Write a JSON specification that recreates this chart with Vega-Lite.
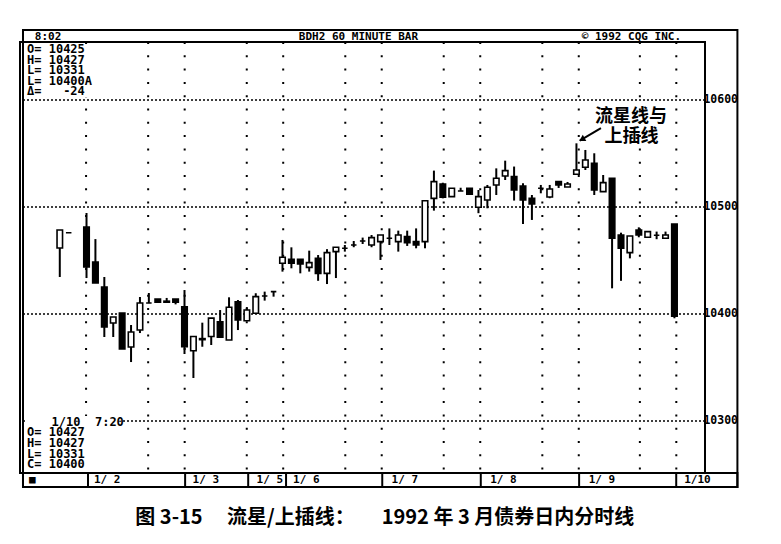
{
  "$schema": "https://vega.github.io/schema/vega-lite/v6.json",
  "width": 685,
  "height": 431,
  "autosize": {"type": "none"},
  "padding": {"left": 20, "top": 42, "right": 76, "bottom": 71},
  "background": "white",
  "config": {"view": {"stroke": "black", "strokeWidth": 2}},
  "datasets": {
    "candles": [
      {"t": 0, "o": 10461.7, "h": 10478.5, "l": 10434.6, "c": 10478.5},
      {"t": 1, "o": 10476, "h": 10476, "l": 10476, "c": 10476},
      {"t": 3, "o": 10481.3, "h": 10494.4, "l": 10433.6, "c": 10443.9},
      {"t": 4, "o": 10448.6, "h": 10470, "l": 10429, "c": 10429},
      {"t": 5, "o": 10425.2, "h": 10434.6, "l": 10378.5, "c": 10387.9},
      {"t": 6, "o": 10391.6, "h": 10397.2, "l": 10378.5, "c": 10397.2},
      {"t": 7, "o": 10400.9, "h": 10400.9, "l": 10367.3, "c": 10367.3},
      {"t": 8, "o": 10369.2, "h": 10389.7, "l": 10355.1, "c": 10383.2},
      {"t": 9, "o": 10385, "h": 10415.9, "l": 10382.2, "c": 10410.3},
      {"t": 10, "o": 10410.3, "h": 10419.6, "l": 10410.3, "c": 10410.3},
      {"t": 11, "o": 10414, "h": 10414, "l": 10411, "c": 10411},
      {"t": 12, "o": 10411, "h": 10415, "l": 10411, "c": 10412},
      {"t": 13, "o": 10414, "h": 10414, "l": 10409, "c": 10411},
      {"t": 14, "o": 10406.8, "h": 10422.4, "l": 10362.6, "c": 10369.4},
      {"t": 15, "o": 10365.6, "h": 10378.9, "l": 10340.2, "c": 10378.9},
      {"t": 16, "o": 10376, "h": 10391.9, "l": 10369.4, "c": 10377},
      {"t": 17, "o": 10378.9, "h": 10396.1, "l": 10371, "c": 10396.1},
      {"t": 18, "o": 10392.8, "h": 10403.7, "l": 10378.3, "c": 10378.3},
      {"t": 19, "o": 10375.7, "h": 10415.6, "l": 10375.7, "c": 10406.3},
      {"t": 20, "o": 10411.5, "h": 10413.1, "l": 10385, "c": 10394.4},
      {"t": 21, "o": 10393.7, "h": 10406.5, "l": 10393.7, "c": 10403.7},
      {"t": 22, "o": 10400.7, "h": 10419.4, "l": 10400.7, "c": 10416.2},
      {"t": 23, "o": 10416.8, "h": 10420.9, "l": 10412.5, "c": 10416.8},
      {"t": 24, "o": 10420.9, "h": 10420.9, "l": 10416.2, "c": 10420.9},
      {"t": 25, "o": 10447.4, "h": 10469.2, "l": 10439.6, "c": 10453},
      {"t": 26, "o": 10451.1, "h": 10462.3, "l": 10442.7, "c": 10447.4},
      {"t": 27, "o": 10451.1, "h": 10451.1, "l": 10438, "c": 10446.7},
      {"t": 28, "o": 10443.6, "h": 10459.2, "l": 10439.6, "c": 10448},
      {"t": 29, "o": 10452, "h": 10455.1, "l": 10431, "c": 10438},
      {"t": 30, "o": 10438, "h": 10460.6, "l": 10428, "c": 10457.4},
      {"t": 31, "o": 10458.3, "h": 10462.4, "l": 10433.6, "c": 10462.4},
      {"t": 32, "o": 10461.4, "h": 10464.5, "l": 10458.3, "c": 10461.4},
      {"t": 33, "o": 10464.5, "h": 10468.2, "l": 10462.4, "c": 10464.5},
      {"t": 34, "o": 10468.2, "h": 10471.4, "l": 10465.4, "c": 10468.2},
      {"t": 35, "o": 10464.5, "h": 10473.8, "l": 10462.4, "c": 10471.4},
      {"t": 36, "o": 10467.6, "h": 10473.8, "l": 10450.5, "c": 10473.8},
      {"t": 37, "o": 10470.8, "h": 10480, "l": 10464.5, "c": 10470.8},
      {"t": 38, "o": 10467.6, "h": 10477.9, "l": 10458.3, "c": 10473.8},
      {"t": 39, "o": 10472.3, "h": 10477.9, "l": 10463.6, "c": 10466.7},
      {"t": 40, "o": 10467.6, "h": 10480, "l": 10461.4, "c": 10464.5},
      {"t": 41, "o": 10467.6, "h": 10505.9, "l": 10461.4, "c": 10505.9},
      {"t": 42, "o": 10508.1, "h": 10534, "l": 10496.6, "c": 10523.7},
      {"t": 43, "o": 10521.5, "h": 10522.7, "l": 10508.1, "c": 10509.1},
      {"t": 44, "o": 10509.7, "h": 10517.5, "l": 10509.7, "c": 10517.5},
      {"t": 45, "o": 10515, "h": 10518, "l": 10515, "c": 10515},
      {"t": 46, "o": 10517.5, "h": 10517.5, "l": 10512, "c": 10512},
      {"t": 47, "o": 10499.7, "h": 10515.9, "l": 10494.2, "c": 10509.7},
      {"t": 48, "o": 10506.5, "h": 10520.6, "l": 10498.8, "c": 10518.4},
      {"t": 49, "o": 10520.6, "h": 10536.1, "l": 10511.2, "c": 10526.8},
      {"t": 50, "o": 10529, "h": 10543.3, "l": 10525.2, "c": 10534},
      {"t": 51, "o": 10528.4, "h": 10537.8, "l": 10506, "c": 10515.9},
      {"t": 52, "o": 10519.6, "h": 10522.2, "l": 10484.1, "c": 10506.5},
      {"t": 53, "o": 10508.1, "h": 10511.2, "l": 10487.9, "c": 10502.8},
      {"t": 54, "o": 10517.5, "h": 10520.6, "l": 10512.8, "c": 10517.5},
      {"t": 55, "o": 10509.3, "h": 10520.6, "l": 10508.2, "c": 10516.8},
      {"t": 56, "o": 10523.7, "h": 10523.7, "l": 10517.8, "c": 10520.6},
      {"t": 57, "o": 10518.7, "h": 10523.4, "l": 10518.7, "c": 10521.5},
      {"t": 58, "o": 10530.6, "h": 10559.5, "l": 10530.6, "c": 10534.6},
      {"t": 59, "o": 10537.1, "h": 10553.3, "l": 10534.6, "c": 10543.9},
      {"t": 60, "o": 10540.9, "h": 10550.2, "l": 10511.2, "c": 10515.9},
      {"t": 61, "o": 10514.4, "h": 10529.9, "l": 10514.4, "c": 10522.8},
      {"t": 62, "o": 10526.9, "h": 10526.9, "l": 10424, "c": 10470.8},
      {"t": 63, "o": 10473.8, "h": 10476, "l": 10431, "c": 10461.4},
      {"t": 64, "o": 10457.4, "h": 10472.9, "l": 10452, "c": 10472.9},
      {"t": 65, "o": 10478.5, "h": 10481, "l": 10471.7, "c": 10473.8},
      {"t": 66, "o": 10471.7, "h": 10477, "l": 10471.7, "c": 10477},
      {"t": 67, "o": 10473.6, "h": 10477, "l": 10469.9, "c": 10473.6},
      {"t": 68, "o": 10470.8, "h": 10477, "l": 10470.8, "c": 10473.8},
      {"t": 69, "o": 10484.1, "h": 10484.1, "l": 10396, "c": 10398}
    ],
    "hgrid": [{"v": 10300}, {"v": 10400}, {"v": 10500}, {"v": 10600}],
    "vgrid": [
      {"t": 2.95}, {"t": 9.92}, {"t": 14.02}, {"t": 20.99}, {"t": 25.08},
      {"t": 32.05}, {"t": 36.14}, {"t": 43.1}, {"t": 47.2}, {"t": 54.17},
      {"t": 58.26}, {"t": 65.12}, {"t": 69.21}
    ],
    "masks": [
      {"t1": -3.68, "t2": 3.39, "v1": 10652.3, "v2": 10602.8},
      {"t1": -3.68, "t2": 6.95, "v1": 10304.7, "v2": 10253.3}
    ],
    "boxes": [
      {"t1": -4.13, "t2": 76.07, "v1": 10665.4, "v2": 10238.3},
      {"t1": -4.13, "t2": 76.07, "v1": 10251.4, "v2": 10238.3}
    ],
    "seps": [
      {"t": 3.17}, {"t": 14.07}, {"t": 21.15}, {"t": 25.4},
      {"t": 36.2}, {"t": 47.26}, {"t": 58.3}, {"t": 69.2}
    ],
    "arrow": [{"t1": 60.75, "v1": 10573.8, "t2": 58.37, "v2": 10562.1, "th": 58.71, "vh": 10563.7}],
    "labels": [
      {"kind": "head", "t": -2.8, "v": 10658.9, "text": "8:02"},
      {"kind": "head", "t": 26.84, "v": 10658.9, "text": "BDH2 60 MINUTE BAR"},
      {"kind": "head", "t": 58.59, "v": 10658.9, "text": "© 1992 CQG INC."},
      {"kind": "head", "t": -3.46, "v": 10244.9, "text": "■"},
      {"kind": "head", "t": 3.84, "v": 10244.9, "text": "1/ 2"},
      {"kind": "head", "t": 14.9, "v": 10244.9, "text": "1/ 3"},
      {"kind": "head", "t": 22.09, "v": 10244.9, "text": "1/ 5"},
      {"kind": "head", "t": 26.19, "v": 10244.9, "text": "1/ 6"},
      {"kind": "head", "t": 37.25, "v": 10244.9, "text": "1/ 7"},
      {"kind": "head", "t": 48.31, "v": 10244.9, "text": "1/ 8"},
      {"kind": "head", "t": 59.38, "v": 10244.9, "text": "1/ 9"},
      {"kind": "head", "t": 70.1, "v": 10244.9, "text": "1/10"},
      {"kind": "ylab", "t": 72.25, "v": 10600, "text": "10600"},
      {"kind": "ylab", "t": 72.25, "v": 10500, "text": "10500"},
      {"kind": "ylab", "t": 72.25, "v": 10400, "text": "10400"},
      {"kind": "ylab", "t": 72.25, "v": 10300, "text": "10300"},
      {"kind": "info", "t": -3.68, "v": 10647.4, "text": "O= 10425"},
      {"kind": "info", "t": -3.68, "v": 10637.6, "text": "H= 10427"},
      {"kind": "info", "t": -3.68, "v": 10627.8, "text": "L= 10331"},
      {"kind": "info", "t": -3.68, "v": 10617.9, "text": "L= 10400A"},
      {"kind": "info", "t": -3.68, "v": 10608.1, "text": "Δ=\u00a0\u00a0\u00a0-24"},
      {"kind": "info", "t": -0.92, "v": 10299.1, "text": "1/10\u00a0\u00a07:20"},
      {"kind": "info", "t": -3.68, "v": 10289.3, "text": "O= 10427"},
      {"kind": "info", "t": -3.68, "v": 10279.4, "text": "H= 10427"},
      {"kind": "info", "t": -3.68, "v": 10269.6, "text": "L= 10331"},
      {"kind": "info", "t": -3.68, "v": 10259.8, "text": "C= 10400"},
      {"kind": "note", "t": 64.12, "v": 10584.4, "text": "流星线与"},
      {"kind": "note", "t": 64.18, "v": 10565.7, "text": "上插线"},
      {"kind": "cap", "t": 8.48, "v": 10209.3, "text": "图 3-15"},
      {"kind": "cap", "t": 18.77, "v": 10209.3, "text": "流星/上插线："},
      {"kind": "cap", "t": 36.14, "v": 10209.3, "text": "1992 年 3 月债券日内分时线"}
    ]
  },
  "layer": [
    {
      "data": {"name": "hgrid"},
      "mark": {"type": "rule", "color": "black", "strokeWidth": 1.7, "strokeDash": [2, 2]},
      "encoding": {
        "y": {"field": "v", "type": "quantitative", "axis": null,
              "scale": {"domain": [10251.4, 10654.2], "nice": false, "zero": false}}
      }
    },
    {
      "data": {"name": "vgrid"},
      "mark": {"type": "rule", "color": "black", "strokeWidth": 2, "strokeDash": [2, 11.3]},
      "encoding": {
        "x": {"field": "t", "type": "quantitative", "axis": null,
              "scale": {"domain": [-3.905, 71.87], "nice": false, "zero": false}}
      }
    },
    {
      "data": {"name": "masks"},
      "mark": {"type": "rect", "fill": "white"},
      "encoding": {
        "x": {"field": "t1", "type": "quantitative", "axis": null},
        "x2": {"field": "t2"},
        "y": {"field": "v1", "type": "quantitative", "axis": null},
        "y2": {"field": "v2"}
      }
    },
    {
      "data": {"name": "boxes"},
      "mark": {"type": "rect", "fillOpacity": 0, "stroke": "black", "strokeWidth": 2},
      "encoding": {
        "x": {"field": "t1", "type": "quantitative", "axis": null},
        "x2": {"field": "t2"},
        "y": {"field": "v1", "type": "quantitative", "axis": null},
        "y2": {"field": "v2"}
      }
    },
    {
      "data": {"name": "seps"},
      "mark": {"type": "rule", "color": "black", "strokeWidth": 2},
      "encoding": {
        "x": {"field": "t", "type": "quantitative", "axis": null},
        "y": {"datum": 10251.4, "axis": null},
        "y2": {"datum": 10238.3}
      }
    },
    {
      "data": {"name": "candles"},
      "mark": {"type": "rule", "color": "black", "strokeWidth": 2},
      "encoding": {
        "x": {"field": "t", "type": "quantitative", "axis": null},
        "y": {"field": "l", "type": "quantitative", "axis": null},
        "y2": {"field": "h"}
      }
    },
    {
      "data": {"name": "candles"},
      "mark": {"type": "bar", "size": 5.5, "stroke": "black", "strokeWidth": 1.6},
      "encoding": {
        "x": {"field": "t", "type": "quantitative", "axis": null},
        "y": {"field": "o", "type": "quantitative", "axis": null},
        "y2": {"field": "c"},
        "fill": {"condition": {"test": "datum.c < datum.o", "value": "black"}, "value": "white"}
      }
    },
    {
      "data": {"name": "arrow"},
      "mark": {"type": "rule", "color": "black", "strokeWidth": 2},
      "encoding": {
        "x": {"field": "t1", "type": "quantitative", "axis": null},
        "x2": {"field": "t2"},
        "y": {"field": "v1", "type": "quantitative", "axis": null},
        "y2": {"field": "v2"}
      }
    },
    {
      "data": {"name": "arrow"},
      "mark": {"type": "point", "shape": "triangle", "angle": 240, "filled": true, "color": "black", "size": 50, "opacity": 1},
      "encoding": {
        "x": {"field": "th", "type": "quantitative", "axis": null},
        "y": {"field": "vh", "type": "quantitative", "axis": null}
      }
    },
    {
      "data": {"name": "labels"},
      "transform": [{"filter": "datum.kind == 'head'"}],
      "mark": {"type": "text", "align": "left", "baseline": "middle", "font": "DejaVu Sans Mono", "fontWeight": "bold", "fontSize": 11, "color": "black"},
      "encoding": {
        "x": {"field": "t", "type": "quantitative", "axis": null},
        "y": {"field": "v", "type": "quantitative", "axis": null},
        "text": {"field": "text"}
      }
    },
    {
      "data": {"name": "labels"},
      "transform": [{"filter": "datum.kind == 'ylab'"}],
      "mark": {"type": "text", "align": "left", "baseline": "middle", "font": "DejaVu Sans Mono", "fontWeight": "bold", "fontSize": 11.5, "color": "black"},
      "encoding": {
        "x": {"field": "t", "type": "quantitative", "axis": null},
        "y": {"field": "v", "type": "quantitative", "axis": null},
        "text": {"field": "text"}
      }
    },
    {
      "data": {"name": "labels"},
      "transform": [{"filter": "datum.kind == 'info'"}],
      "mark": {"type": "text", "align": "left", "baseline": "middle", "font": "DejaVu Sans Mono", "fontWeight": "bold", "fontSize": 12, "color": "black"},
      "encoding": {
        "x": {"field": "t", "type": "quantitative", "axis": null},
        "y": {"field": "v", "type": "quantitative", "axis": null},
        "text": {"field": "text"}
      }
    },
    {
      "data": {"name": "labels"},
      "transform": [{"filter": "datum.kind == 'note'"}],
      "mark": {"type": "text", "align": "center", "baseline": "middle", "font": "Noto Sans CJK SC", "fontWeight": "bold", "fontSize": 18, "color": "black"},
      "encoding": {
        "x": {"field": "t", "type": "quantitative", "axis": null},
        "y": {"field": "v", "type": "quantitative", "axis": null},
        "text": {"field": "text"}
      }
    },
    {
      "data": {"name": "labels"},
      "transform": [{"filter": "datum.kind == 'cap'"}],
      "mark": {"type": "text", "align": "left", "baseline": "middle", "font": "Noto Sans CJK SC", "fontWeight": "bold", "fontSize": 20, "color": "black"},
      "encoding": {
        "x": {"field": "t", "type": "quantitative", "axis": null},
        "y": {"field": "v", "type": "quantitative", "axis": null},
        "text": {"field": "text"}
      }
    }
  ]
}
